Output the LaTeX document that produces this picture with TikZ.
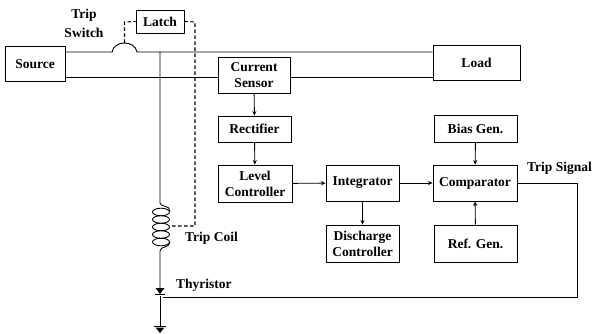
\documentclass[tikz,border=0pt]{standalone}
\usepackage{fontspec}
\setmainfont{Liberation Serif}
\usetikzlibrary{arrows.meta}
\begin{document}
\begin{tikzpicture}[x=1pt,y=-1pt,
  blk/.style={draw,line width=0.9pt,inner sep=0pt,align=center,font=\bfseries\fontsize{13.5}{16}\selectfont},
  lbl/.style={inner sep=0pt,align=center,font=\bfseries\fontsize{13.5}{19}\selectfont},
  wire/.style={line width=0.9pt},
  dsh/.style={line width=1.1pt,dash pattern=on 3.5pt off 2.5pt},
  arr/.style={line width=0.9pt,-{Stealth[length=4.5pt,width=4pt]}}]
\useasboundingbox (0,0) rectangle (595,334);
% blocks
\node[blk,minimum width=60pt,minimum height=35pt] (src) at (35,64) {Source};
\node[blk,minimum width=48pt,minimum height=23pt] (latch) at (160,21.5) {Latch};
\node[blk,minimum width=87pt,minimum height=35pt] (load) at (476.5,62.5) {Load};
\node[blk,minimum width=72pt,minimum height=36pt] (cs) at (254,75) {Current\\Sensor};
\node[blk,minimum width=73pt,minimum height=26pt] (rect) at (254.5,129) {Rectifier};
\node[blk,minimum width=74pt,minimum height=37pt] (lc) at (255,183.5) {Level\\Controller};
\node[blk,minimum width=73pt,minimum height=36pt] (int) at (362.5,183) {Integrator};
\node[blk,minimum width=73pt,minimum height=37pt] (dc) at (362.5,243.5) {Discharge\\Controller};
\node[blk,minimum width=84pt,minimum height=36pt] (cmp) at (475,183) {Comparator};
\node[blk,minimum width=83pt,minimum height=27pt] (bias) at (475.5,128.5) {Bias Gen.};
\node[blk,minimum width=83pt,minimum height=37pt] (ref) at (475.5,243.5) {Ref. Gen.};
% labels
\node[lbl] (tsw) at (84,23) {Trip\\Switch};
\node[lbl,anchor=west] (tcoil) at (185,238) {Trip Coil};
\node[lbl,anchor=west] (thy) at (176,285) {Thyristor};
\node[lbl,anchor=west] (tsig) at (527,168) {Trip Signal};
% coordinates
\coordinate (swL) at (112,52);
\coordinate (swR) at (137,52);
\coordinate (swTop) at (124.5,43);
\coordinate (jn) at (160,52);
\coordinate (coilT) at (160,203);
\coordinate (coilB) at (160,251);
\coordinate (thyA) at (160,288);
\coordinate (thyK) at (160,296);
\coordinate (gnd) at (160,326);
\coordinate (tr1) at (577,183);
\coordinate (tr2) at (577,297);
\coordinate (gate) at (163,297);
% main wires
\draw[wire] (src.east |- swL) -- (swL) .. controls (114,40) and (135,40) .. (swR) -- (load.west |- swR);
\draw[wire] (src.east |- 0,77) -- (cs.west |- 0,77);
\draw[wire] (cs.east |- 0,77) -- (load.west |- 0,77);
% trip coil branch
\draw[wire] (jn) -- (coilT) .. controls (160,207) and (170,205) .. (170,211);
\foreach \i in {0,...,4} \draw[wire] (161,212+\i*7.5) ellipse [x radius=8.5, y radius=3.8];
\draw[wire] (170,242) .. controls (170,248) and (160,246) .. (coilB) -- (thyA);
\fill (155.5,288) -- (164.5,288) -- (160,294) -- cycle;
\draw[wire] (155,294.5) -- (165,294.5);
\draw[wire] (thyK) -- (gnd);
\draw[wire] (154,326) -- (166,326);
\fill (155.5,327.5) -- (164.5,327.5) -- (160,333) -- cycle;
% latch dashed
\draw[dsh] (swTop) -- (124.5,22) -- (latch.west);
\draw[dsh] (latch.east) -- (195,22) -- (195,226) -- (170,226);
% signal chain
\draw[arr] (cs) -- (rect);
\draw[arr] (rect) -- (lc);
\draw[arr] (lc) -- (int);
\draw[arr] (int) -- (cmp);
\draw[arr] (int) -- (dc);
\draw[arr] (bias) -- (cmp);
\draw[arr] (ref) -- (cmp);
% trip signal
\draw[wire] (cmp.east) -- (tr1) -- (tr2) -- (gate);
\end{tikzpicture}
\end{document}
